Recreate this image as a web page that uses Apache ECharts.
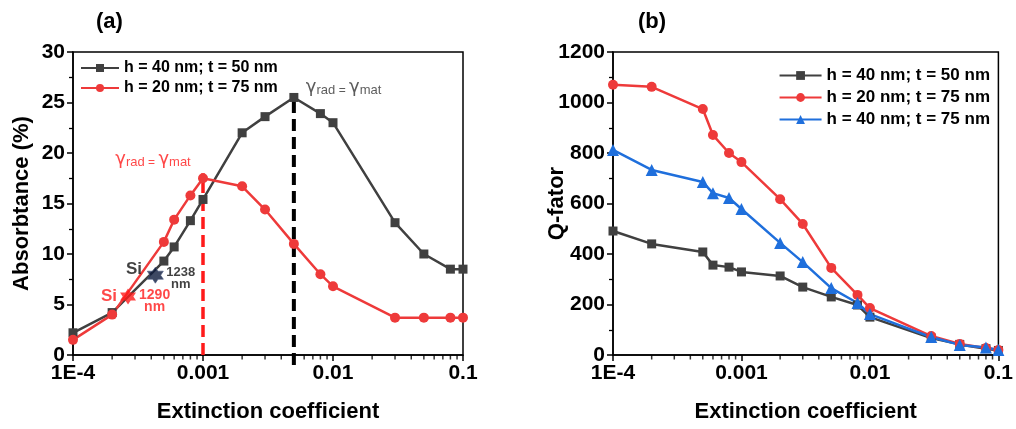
<!DOCTYPE html>
<html><head><meta charset="utf-8">
<script src="https://cdn.jsdelivr.net/npm/echarts@6/dist/echarts.min.js"></script>
<style>html,body{margin:0;padding:0;background:#fff}#c{width:1016px;height:429px}</style>
</head><body><div id="c"></div><script>
const kValues = [1e-4, 2e-4, 5e-4, 6e-4, 8e-4, 1e-3, 2e-3, 3e-3, 5e-3, 8e-3, 1e-2, 3e-2, 5e-2, 8e-2, 1e-1];
const absH40T50 = [2.2, 4.2, 9.3, 10.7, 13.3, 15.4, 22.0, 23.6, 25.5, 23.9, 23.0, 13.1, 10.0, 8.5, 8.5];
const absH20T75 = [1.5, 4.0, 11.2, 13.4, 15.8, 17.5, 16.7, 14.4, 11.0, 8.0, 6.8, 3.7, 3.7, 3.7, 3.7];
const qH40T50 = [491, 440, 408, 356, 348, 329, 313, 269, 230, 198, 150, 67, 42, 25, 18];
const qH20T75 = [1070, 1062, 974, 871, 800, 764, 617, 519, 345, 238, 186, 75, 44, 28, 20];
const qH40T75 = [812, 733, 685, 641, 622, 578, 444, 368, 265, 206, 162, 71, 40, 30, 20];
const siBlack = [4.3e-4, 7.9];
const siRed = [2.65e-4, 5.8];
const critRed = [[1e-3, 0], [1e-3, 18.0]];
const critBlack = [[5e-3, -1.0], [5e-3, 25.5]];
const xTickLabels = ['1E-4', '0.001', '0.01', '0.1'];
const minorTickValues = [2e-4,3e-4,4e-4,5e-4,6e-4,7e-4,8e-4,9e-4,2e-3,3e-3,4e-3,5e-3,6e-3,7e-3,8e-3,9e-3,2e-2,3e-2,4e-2,5e-2,6e-2,7e-2,8e-2,9e-2];
const names = ['h = 40 nm; t = 50 nm', 'h = 20 nm; t = 75 nm', 'h = 40 nm; t = 75 nm'];

const FF = '"Liberation Sans", Arial, sans-serif';
const GRAY = '#404040', RED = '#ee3a3a', BLUE = '#1f6fdc';
const hexagram = 'path://M0,-10L2.887,-5L8.66,-5L5.774,0L8.66,5L2.887,5L0,10L-2.887,5L-8.66,5L-5.774,0L-8.66,-5L-2.887,-5Z';

function zip(xs, ys) { return xs.map((x, i) => [x, ys[i]]); }

function xAxis(gi) {
  return {
    type: 'log', gridIndex: gi, min: 1e-4, max: 0.1, logBase: 10,
    name: 'Extinction coefficient', nameLocation: 'middle', nameGap: 46, nameMoveOverlap: false,
    nameTextStyle: {fontSize: 22, fontWeight: 'bold', color: '#000', fontFamily: FF},
    axisLine: {show: true, lineStyle: {color: '#000', width: 1.5}},
    axisTick: {show: true, length: 6, lineStyle: {color: '#000', width: 1.5}},
    minorTick: {show: false},
    splitLine: {show: false},
    axisLabel: {fontSize: 21, fontWeight: 'bold', color: '#000', fontFamily: FF, margin: 8,
      formatter: v => xTickLabels[Math.round(Math.log10(v)) + 4]}
  };
}
function yAxis(gi, max, interval, name, gap) {
  return {
    type: 'value', gridIndex: gi, min: 0, max: max, interval: interval,
    name: name, nameLocation: 'middle', nameGap: gap, nameMoveOverlap: false,
    nameTextStyle: {fontSize: 22, fontWeight: 'bold', color: '#000', fontFamily: FF},
    axisLine: {show: true, lineStyle: {color: '#000', width: 1.5}},
    axisTick: {show: true, length: 6, lineStyle: {color: '#000', width: 1.5}},
    minorTick: {show: true, splitNumber: 2, length: 4, lineStyle: {color: '#000', width: 1.3}},
    splitLine: {show: false},
    axisLabel: {fontSize: 21, fontWeight: 'bold', color: '#000', fontFamily: FF, margin: 8,
      formatter: v => String(v)}
  };
}
function minorTicks(gi) {
  return {
    type: 'scatter', xAxisIndex: gi, yAxisIndex: gi, silent: true, clip: false, z: 10,
    symbol: 'rect', symbolSize: [1.5, 4.5], symbolOffset: [0, 2.25],
    itemStyle: {color: '#000'},
    data: minorTickValues.map(v => [v, 0])
  };
}
function lineSeries(gi, name, data, color, symbol, size) {
  return {
    type: 'line', name: name, xAxisIndex: gi, yAxisIndex: gi, data: data,
    symbol: symbol, symbolSize: size, showSymbol: true,
    lineStyle: {color: color, width: 2.5}, itemStyle: {color: color}, z: 3
  };
}
const gammaRich = c => ({
  g: {fontSize: 18, color: c, fontFamily: '"DejaVu Sans", sans-serif'},
  s: {fontSize: 13, color: c, fontFamily: '"Liberation Sans", sans-serif', padding: [6, 0, 0, 0]},
  e: {fontSize: 12, color: c, fontFamily: '"Liberation Sans", sans-serif', padding: [6, 0, 0, 0]}
});

const chart = echarts.init(document.getElementById('c'), null, {renderer: 'canvas'});
chart.setOption({
  animation: false,
  backgroundColor: '#fff',
  title: [
    {text: '(a)', left: 91, top: 6, textStyle: {fontSize: 22, fontWeight: 'bold', color: '#000', fontFamily: FF}},
    {text: '(b)', left: 633, top: 6, textStyle: {fontSize: 22, fontWeight: 'bold', color: '#000', fontFamily: FF}}
  ],
  legend: [
    {data: [names[0], names[1]], orient: 'vertical', left: 75, top: 55, itemWidth: 38, itemHeight: 10, itemGap: 4,
      textStyle: {fontSize: 16, fontWeight: 'bold', color: '#000', fontFamily: FF}},
    {data: names, orient: 'vertical', right: 21, top: 62, itemWidth: 42, itemHeight: 11, itemGap: 5,
      textStyle: {fontSize: 17, fontWeight: 'bold', color: '#000', fontFamily: FF}}
  ],
  grid: [
    {left: 73, right: 553, top: 52, bottom: 74, show: true, borderColor: '#000', borderWidth: 1.5},
    {left: 613, right: 15, top: 52, bottom: 74, show: true, borderColor: '#000', borderWidth: 1.5}
  ],
  xAxis: [xAxis(0), xAxis(1)],
  yAxis: [yAxis(0, 30, 5, 'Absorbtance (%)', 40), yAxis(1, 1200, 200, 'Q-fator', 45)],
  series: [
    lineSeries(0, names[0], zip(kValues, absH40T50), GRAY, 'rect', 9),
    lineSeries(0, names[1], zip(kValues, absH20T75), RED, 'circle', 10),
    lineSeries(1, names[0], zip(kValues, qH40T50), GRAY, 'rect', 9),
    lineSeries(1, names[1], zip(kValues, qH20T75), RED, 'circle', 10),
    lineSeries(1, names[2], zip(kValues, qH40T75), BLUE, 'triangle', 12),
    {type: 'line', xAxisIndex: 0, yAxisIndex: 0, data: critRed, clip: false, z: 2, silent: true,
      symbol: 'none', lineStyle: {color: '#ff1a1a', width: 3.5, type: [12, 6]}},
    {type: 'line', xAxisIndex: 0, yAxisIndex: 0, data: critBlack, clip: false, z: 2, silent: true,
      symbol: 'none', lineStyle: {color: '#000', width: 4, type: [12, 6]}},
    {type: 'scatter', xAxisIndex: 0, yAxisIndex: 0, silent: true, z: 6, symbolSize: 0,
      data: [{value: critRed[1], label: {show: true, position: 'top', distance: 4, offset: [-50, 0],
        formatter: '{g|γ}{s|rad}{e| = }{g|γ}{s|mat}', rich: gammaRich('#ff1a1a')}},
        {value: critBlack[1], label: {show: true, position: 'right', distance: 12, offset: [0, -10],
        formatter: '{g|γ}{s|rad}{e| = }{g|γ}{s|mat}', rich: gammaRich('#333')}}]},
    {type: 'scatter', xAxisIndex: 0, yAxisIndex: 0, z: 6, symbol: hexagram, symbolSize: 16,
      data: [
        {value: siBlack, itemStyle: {color: '#0c1a3c', borderColor: '#4a5a80', borderWidth: 0.8},
          label: {show: true, position: 'left', distance: 3, offset: [-2, -6], formatter: 'Si',
            fontSize: 17, fontWeight: 'bold', color: '#111', fontFamily: FF}},
        {value: siRed, itemStyle: {color: '#ff1a1a'},
          label: {show: true, position: 'left', distance: 3, offset: [0, 0], formatter: 'Si',
            fontSize: 17, fontWeight: 'bold', color: '#ff1a1a', fontFamily: FF}}
      ]},
    {type: 'scatter', xAxisIndex: 0, yAxisIndex: 0, z: 6, symbolSize: 0, silent: true,
      data: [
        {value: siBlack, label: {show: true, position: 'right', distance: 11, offset: [0, 3],
          formatter: '{a|1238}\n{a|nm}', rich: {a: {fontSize: 13, fontWeight: 'bold', color: '#111', fontFamily: FF, align: 'center', lineHeight: 12}}}},
        {value: siRed, label: {show: true, position: 'right', distance: 11, offset: [0, 5],
          formatter: '{a|1290}\n{a|nm}', rich: {a: {fontSize: 14, fontWeight: 'bold', color: '#ff1a1a', fontFamily: FF, align: 'center', lineHeight: 12}}}}
      ]},
    minorTicks(0), minorTicks(1)
  ]
});
</script></body></html>
